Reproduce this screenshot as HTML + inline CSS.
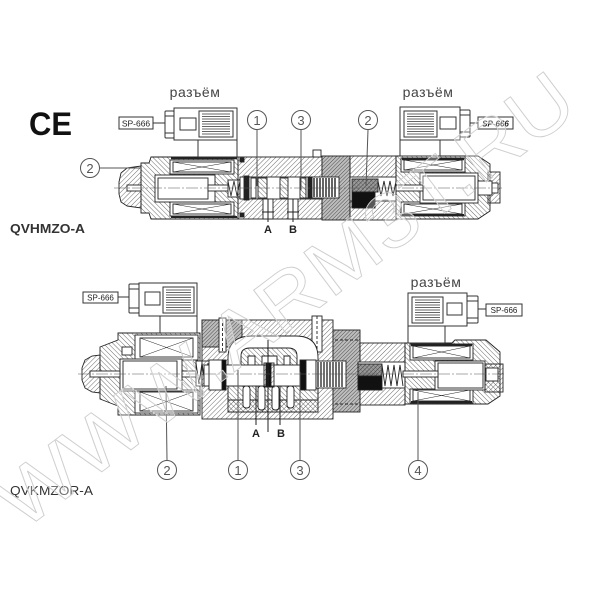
<!DOCTYPE html>
<html><head><meta charset="utf-8"><style>
html,body{margin:0;padding:0;background:#fff;}
svg{display:block;}
text{font-family:"Liberation Sans",sans-serif;}
</style></head><body>
<svg width="600" height="600" viewBox="0 0 600 600" xmlns="http://www.w3.org/2000/svg">
<defs>
<pattern id="h" width="3.4" height="3.4" patternUnits="userSpaceOnUse" patternTransform="rotate(45)"><line x1="0" y1="0" x2="0" y2="3.4" stroke="#3a3a3a" stroke-width="0.75"/></pattern>
<pattern id="h2" width="3.4" height="3.4" patternUnits="userSpaceOnUse" patternTransform="rotate(-45)"><line x1="0" y1="0" x2="0" y2="3.4" stroke="#3a3a3a" stroke-width="0.75"/></pattern>
<pattern id="hd" width="2.6" height="2.6" patternUnits="userSpaceOnUse" patternTransform="rotate(45)"><rect width="2.6" height="2.6" fill="#bdbdbd"/><line x1="0" y1="0" x2="0" y2="2.6" stroke="#333" stroke-width="0.8"/></pattern>
<pattern id="hx" width="3" height="3" patternUnits="userSpaceOnUse" patternTransform="rotate(45)"><rect width="3" height="3" fill="#999"/><line x1="0" y1="0" x2="0" y2="3" stroke="#222" stroke-width="0.8"/><line x1="0" y1="0" x2="3" y2="0" stroke="#444" stroke-width="0.5"/></pattern>
</defs>

<!-- ============ CE ============ -->
<text x="29" y="135" font-size="32" font-weight="bold" fill="#111" textLength="43" lengthAdjust="spacingAndGlyphs">CE</text>

<!-- ============ TOP DIAGRAM ============ -->
<g stroke="#222" stroke-width="0.9">
<path d="M119,182 L121,173 L127,168 L141,166 L141,208 L127,206 L121,202 L119,194 Z" fill="url(#h)"/>
<path d="M141,163 L149,163 L151,157 L238,157 L238,219 L151,219 L149,213 L141,213 Z" fill="url(#h2)"/>
<rect x="170" y="160" width="64" height="14" fill="#fff"/>
<rect x="173" y="162" width="58" height="10" fill="#fff"/>
<path d="M173,162 L231,172 M173,172 L231,162" stroke-width="0.5" fill="none"/>
<line x1="171" y1="158" x2="237" y2="158" stroke-width="2.4"/>
<rect x="170" y="202" width="64" height="14" fill="#fff"/>
<rect x="173" y="204" width="58" height="10" fill="#fff"/>
<path d="M173,204 L231,214 M173,214 L231,204" stroke-width="0.5" fill="none"/>
<line x1="171" y1="217" x2="237" y2="217" stroke-width="2"/>
<rect x="155" y="175" width="60" height="27" fill="#fff"/>
<rect x="158" y="178" width="50" height="21" fill="#fff"/>
<rect x="127" y="185" width="14" height="6" fill="#fff"/>
<rect x="208" y="185" width="22" height="6" fill="#fff"/>
<rect x="228" y="180" width="12" height="17" fill="#fff"/>
<path d="M228,181 L231,196 L234,181 L237,196 L240,181" fill="none" stroke-width="0.8"/>
<rect x="238" y="157" width="84" height="62" fill="url(#h)"/>
<rect x="240" y="177" width="82" height="22" fill="#fff"/>
<rect x="244" y="176" width="5" height="24" fill="#222"/>
<rect x="251" y="178" width="5" height="20" fill="#fff"/>
<rect x="258" y="178" width="9" height="20" fill="url(#h2)"/>
<rect x="280" y="178" width="8" height="20" fill="url(#h2)"/>
<rect x="300" y="178" width="6" height="20" fill="url(#h2)"/>
<rect x="263" y="199" width="10" height="20" fill="#fff"/>
<rect x="288" y="199" width="10" height="20" fill="#fff"/>
<rect x="240" y="158" width="4" height="4" fill="#222"/>
<rect x="240" y="213" width="4" height="4" fill="#222"/>
<rect x="313" y="150" width="8" height="7" fill="#fff"/>
<rect x="322" y="156" width="28" height="64" fill="url(#hd)"/>
<rect x="306" y="177" width="33" height="21" fill="#fff"/>
<rect x="308" y="177" width="4" height="21" fill="#222"/>
<path d="M314,178 L314,197 M317,178 L317,197 M320,178 L320,197 M323,178 L323,197 M326,178 L326,197 M329,178 L329,197 M332,178 L332,197 M335,178 L335,197" stroke-width="1.4"/>
<rect x="350" y="156" width="46" height="64" fill="url(#h)"/>
<rect x="350" y="177" width="46" height="24" fill="#fff"/>
<rect x="352" y="179" width="26" height="13" fill="url(#hx)"/>
<rect x="352" y="192" width="23" height="16" fill="#111"/>
<path d="M378,181 L381,196 L384,181 L387,196 L390,181 L393,196 L396,181" fill="none" stroke-width="0.9"/>
<path d="M396,156 L478,156 L490,164 L490,211 L478,219 L396,219 Z" fill="url(#h2)"/>
<rect x="488" y="172" width="12" height="31" fill="url(#h)"/>
<rect x="401" y="158" width="64" height="14" fill="#fff"/>
<rect x="404" y="160" width="58" height="10" fill="#fff"/>
<path d="M404,160 L462,170 M404,170 L462,160" stroke-width="0.5" fill="none"/>
<line x1="402" y1="159" x2="464" y2="159" stroke-width="2.4"/>
<rect x="401" y="202" width="64" height="14" fill="#fff"/>
<rect x="404" y="204" width="58" height="10" fill="#fff"/>
<path d="M404,204 L462,214 M404,214 L462,204" stroke-width="0.5" fill="none"/>
<line x1="402" y1="215" x2="464" y2="215" stroke-width="2"/>
<rect x="420" y="173" width="58" height="30" fill="#fff"/>
<rect x="423" y="176" width="52" height="24" fill="#fff"/>
<rect x="396" y="185" width="27" height="6" fill="#fff"/>
<rect x="478" y="181" width="14" height="14" fill="#fff"/>
<rect x="492" y="183" width="6" height="10" fill="#fff"/>
</g>
<line x1="114" y1="188" x2="502" y2="188" stroke="#555" stroke-width="0.6" stroke-dasharray="12 2 2 2"/>

<g stroke="#333" stroke-width="1" fill="#fff">
<rect x="119" y="117" width="34" height="12"/>
<line x1="153" y1="123" x2="165" y2="123"/>
<rect x="165" y="111" width="9" height="27" rx="1"/>
<line x1="165" y1="116" x2="174" y2="116"/><line x1="165" y1="133" x2="174" y2="133"/>
<rect x="174" y="108" width="63" height="32"/>
<rect x="180" y="118" width="16" height="12"/>
<rect x="199" y="111" width="34" height="26"/>
<rect x="198" y="140" width="39" height="17"/>
<rect x="400" y="107" width="60" height="33"/>
<rect x="404" y="111" width="33" height="26"/>
<rect x="440" y="117" width="16" height="12"/>
<rect x="460" y="110" width="10" height="27" rx="1"/>
<line x1="460" y1="115" x2="470" y2="115"/><line x1="460" y1="132" x2="470" y2="132"/>
<line x1="470" y1="123" x2="478" y2="123"/>
<rect x="478" y="117" width="35" height="12"/>
<rect x="400" y="140" width="40" height="16"/>
</g>
<g stroke="#333" stroke-width="0.8">
<path d="M202,114H230M202,116.5H230M202,119H230M202,121.5H230M202,124H230M202,126.5H230M202,129H230M202,131.5H230M202,134H230"/>
<path d="M407,114H434M407,116.5H434M407,119H434M407,121.5H434M407,124H434M407,126.5H434M407,129H434M407,131.5H434M407,134H434"/>
</g>
<text x="136" y="126.5" font-size="8.5" text-anchor="middle" fill="#222">SP-666</text>
<text x="495.5" y="126.5" font-size="8" text-anchor="middle" fill="#222" font-style="italic" font-weight="bold">SP-666</text>
<text x="195" y="97" font-size="14" text-anchor="middle" fill="#444" letter-spacing="0.5">разъём</text>
<text x="428" y="97" font-size="14" text-anchor="middle" fill="#444" letter-spacing="0.5">разъём</text>

<g stroke="#555" stroke-width="1" fill="#fff">
<circle cx="257" cy="120" r="9.5"/>
<circle cx="301" cy="120" r="9.5"/>
<circle cx="368" cy="120" r="9.5"/>
<circle cx="90" cy="168" r="9.5"/>
<line x1="257" y1="130" x2="257" y2="186"/>
<line x1="301" y1="130" x2="301" y2="190"/>
<line x1="368" y1="130" x2="366" y2="186"/>
<line x1="100" y1="168" x2="140" y2="168"/>
</g>
<g font-size="13" fill="#555" text-anchor="middle">
<text x="257" y="125">1</text><text x="301" y="125">3</text><text x="368" y="125">2</text><text x="90" y="173">2</text>
</g>
<g stroke="#222" stroke-width="1">
<line x1="268" y1="199" x2="268" y2="222"/><line x1="262" y1="212" x2="274" y2="212"/>
<line x1="293" y1="199" x2="293" y2="222"/><line x1="287" y1="212" x2="299" y2="212"/>
</g>
<text x="268" y="233" font-size="11" font-weight="bold" text-anchor="middle" fill="#222">A</text>
<text x="293" y="233" font-size="11" font-weight="bold" text-anchor="middle" fill="#222">B</text>
<text x="10" y="233" font-size="13" font-weight="bold" fill="#333" textLength="75" lengthAdjust="spacingAndGlyphs">QVHMZO-A</text>

<!-- ============ BOTTOM DIAGRAM ============ -->
<g stroke="#222" stroke-width="0.9">
<path d="M82,368 L85,360 L92,356 L100,355 L100,393 L92,392 L85,388 L82,380 Z" fill="url(#h)"/>
<path d="M100,347 L118,340 L118,333 L200,333 L200,415 L118,415 L118,406 L100,399 Z" fill="url(#h2)"/>
<rect x="135" y="335" width="63" height="25" fill="#fff"/>
<rect x="140" y="338" width="53" height="19" fill="#fff"/>
<path d="M140,338 L193,357 M140,357 L193,338" stroke-width="0.5" fill="none"/>
<rect x="135" y="390" width="63" height="23" fill="#fff"/>
<rect x="140" y="392" width="53" height="19" fill="#fff"/>
<path d="M140,392 L193,411 M140,411 L193,392" stroke-width="0.5" fill="none"/>
<rect x="120" y="359" width="62" height="32" fill="#fff"/>
<rect x="123" y="361" width="54" height="28" fill="#fff"/>
<rect x="90" y="371" width="30" height="6" fill="#fff"/>
<rect x="182" y="371" width="20" height="6" fill="#fff"/>
<rect x="122" y="347" width="10" height="8" fill="#fff"/>
<rect x="196" y="361" width="14" height="25" fill="#fff"/>
<path d="M196,363 L199,384 L202,363 L205,384 L208,363" fill="none"/>
<rect x="202" y="320" width="131" height="99" fill="url(#h)"/>
<rect x="202" y="320" width="40" height="27" fill="url(#hd)"/>
<rect x="219" y="318" width="7" height="34" fill="#fff"/>
<line x1="222.5" y1="318" x2="222.5" y2="352" stroke-dasharray="3 2"/>
<rect x="312" y="316" width="10" height="36" fill="#fff"/>
<line x1="317" y1="316" x2="317" y2="352" stroke-dasharray="3 2"/>
<path d="M228,400 L228,358 Q228,336 252,336 L296,336 Q318,336 318,358 L318,400 Z" fill="#fff"/>
<path d="M241,366 L241,356 Q241,348 250,348 L288,348 Q297,348 297,356 L297,366 L290,366 L290,356 L284,356 L284,366 L277,366 L277,356 L262,356 L262,366 L255,366 L255,356 L248,356 L248,366 Z" fill="url(#h2)"/>
<path d="M228,386 L318,386 L318,412 L228,412 Z" fill="url(#h2)"/>
<rect x="243" y="386" width="7" height="22" rx="3" fill="#fff"/>
<rect x="258" y="386" width="7" height="24" rx="3" fill="#fff"/>
<rect x="272" y="386" width="7" height="24" rx="3" fill="#fff"/>
<rect x="287" y="386" width="7" height="22" rx="3" fill="#fff"/>
<rect x="204" y="365" width="128" height="21" fill="#fff"/>
<rect x="209" y="360" width="14" height="30" fill="#fff"/>
<rect x="222" y="360" width="4" height="30" fill="#111"/>
<rect x="264" y="363" width="10" height="24" fill="url(#h)"/>
<rect x="266" y="363" width="5" height="24" fill="#111"/>
<rect x="300" y="360" width="6" height="30" fill="#111"/>
<rect x="306" y="360" width="10" height="30" fill="#fff"/>
<rect x="333" y="330" width="27" height="82" fill="url(#hd)"/>
<line x1="335" y1="340" x2="360" y2="340" stroke-dasharray="3 2"/>
<line x1="335" y1="404" x2="360" y2="404" stroke-dasharray="3 2"/>
<rect x="316" y="361" width="30" height="27" fill="#fff"/>
<path d="M318,362 L318,387 M321,362 L321,387 M324,362 L324,387 M327,362 L327,387 M330,362 L330,387 M333,362 L333,387 M336,362 L336,387 M339,362 L339,387 M342,362 L342,387" stroke-width="1.3"/>
<rect x="360" y="343" width="45" height="62" fill="url(#h)"/>
<rect x="358" y="362" width="47" height="26" fill="#fff"/>
<rect x="358" y="364" width="24" height="12" fill="url(#hx)"/>
<rect x="358" y="376" width="24" height="14" fill="#111"/>
<path d="M382,365 L385,386 L388,365 L391,386 L394,365 L397,386 L400,365 L403,386" fill="none"/>
<path d="M405,343 L452,343 L455,340 L486,340 L500,352 L500,396 L488,404 L405,404 Z" fill="url(#h2)"/>
<rect x="410" y="344" width="63" height="16" fill="#fff"/>
<rect x="413" y="346" width="57" height="12" fill="#fff"/>
<path d="M413,346 L470,358 M413,358 L470,346" stroke-width="0.5" fill="none"/>
<line x1="411" y1="345" x2="472" y2="345" stroke-width="2.4"/>
<rect x="410" y="389" width="63" height="14" fill="#fff"/>
<rect x="413" y="390" width="57" height="11" fill="#fff"/>
<path d="M413,390 L470,401 M413,401 L470,390" stroke-width="0.5" fill="none"/>
<line x1="411" y1="402" x2="472" y2="402" stroke-width="2"/>
<rect x="435" y="361" width="50" height="29" fill="#fff"/>
<rect x="438" y="363" width="45" height="25" fill="#fff"/>
<rect x="403" y="371" width="35" height="6" fill="#fff"/>
<rect x="485" y="364" width="18" height="28" fill="url(#h)"/>
<rect x="486" y="368" width="12" height="13" fill="#fff"/>
</g>
<line x1="78" y1="374" x2="505" y2="374" stroke="#555" stroke-width="0.6" stroke-dasharray="12 2 2 2"/>

<g stroke="#333" stroke-width="1" fill="#fff">
<rect x="83" y="292" width="35" height="11"/>
<line x1="118" y1="297" x2="129" y2="297"/>
<rect x="129" y="284" width="10" height="29" rx="1"/>
<line x1="129" y1="289" x2="139" y2="289"/><line x1="129" y1="308" x2="139" y2="308"/>
<rect x="139" y="283" width="58" height="33"/>
<rect x="145" y="292" width="15" height="13"/>
<rect x="163" y="287" width="31" height="26"/>
<rect x="160" y="316" width="37" height="17"/>
<rect x="408" y="293" width="59" height="33"/>
<rect x="412" y="297" width="31" height="26"/>
<rect x="447" y="303" width="15" height="12"/>
<rect x="467" y="296" width="11" height="27" rx="1"/>
<line x1="467" y1="301" x2="478" y2="301"/><line x1="467" y1="318" x2="478" y2="318"/>
<line x1="478" y1="309" x2="486" y2="309"/>
<rect x="486" y="304" width="36" height="12"/>
<rect x="408" y="326" width="37" height="17"/>
</g>
<g stroke="#333" stroke-width="0.8">
<path d="M166,290H191M166,292.5H191M166,295H191M166,297.5H191M166,300H191M166,302.5H191M166,305H191M166,307.5H191M166,310H191"/>
<path d="M415,300H440M415,302.5H440M415,305H440M415,307.5H440M415,310H440M415,312.5H440M415,315H440M415,317.5H440M415,320H440"/>
</g>
<text x="100.5" y="300.5" font-size="8" text-anchor="middle" fill="#222">SP-666</text>
<text x="504" y="313" font-size="8" text-anchor="middle" fill="#222">SP-666</text>
<text x="436" y="287" font-size="14" text-anchor="middle" fill="#444" letter-spacing="0.5">разъём</text>

<g stroke="#555" stroke-width="1" fill="#fff">
<circle cx="167" cy="470" r="9.5"/>
<circle cx="238" cy="470" r="9.5"/>
<circle cx="300" cy="470" r="9.5"/>
<circle cx="418" cy="470" r="9.5"/>
<line x1="167" y1="460" x2="166" y2="386"/>
<line x1="238" y1="460" x2="238" y2="370"/>
<line x1="300" y1="460" x2="300" y2="372"/>
<line x1="418" y1="460" x2="418" y2="392"/>
</g>
<g font-size="13" fill="#555" text-anchor="middle">
<text x="167" y="475">2</text><text x="238" y="475">1</text><text x="300" y="475">3</text><text x="418" y="475">4</text>
</g>
<g stroke="#222" stroke-width="1">
<line x1="256" y1="386" x2="256" y2="425"/>
<line x1="280" y1="386" x2="280" y2="425"/>
<line x1="268" y1="340" x2="268" y2="432"/>
</g>
<text x="256" y="437" font-size="11" font-weight="bold" text-anchor="middle" fill="#222">A</text>
<text x="281" y="437" font-size="11" font-weight="bold" text-anchor="middle" fill="#222">B</text>
<text x="10" y="495" font-size="13" fill="#333" textLength="83" lengthAdjust="spacingAndGlyphs">QVKMZOR-A</text>

<!-- watermark -->
<text x="22" y="532" font-size="78" fill="#fff" fill-opacity="0.3" stroke="#cfcfcf" stroke-width="0.9" textLength="700" lengthAdjust="spacingAndGlyphs" transform="rotate(-37 22 532)">WWW.ARM3T.RU</text>
</svg>
</body></html>
